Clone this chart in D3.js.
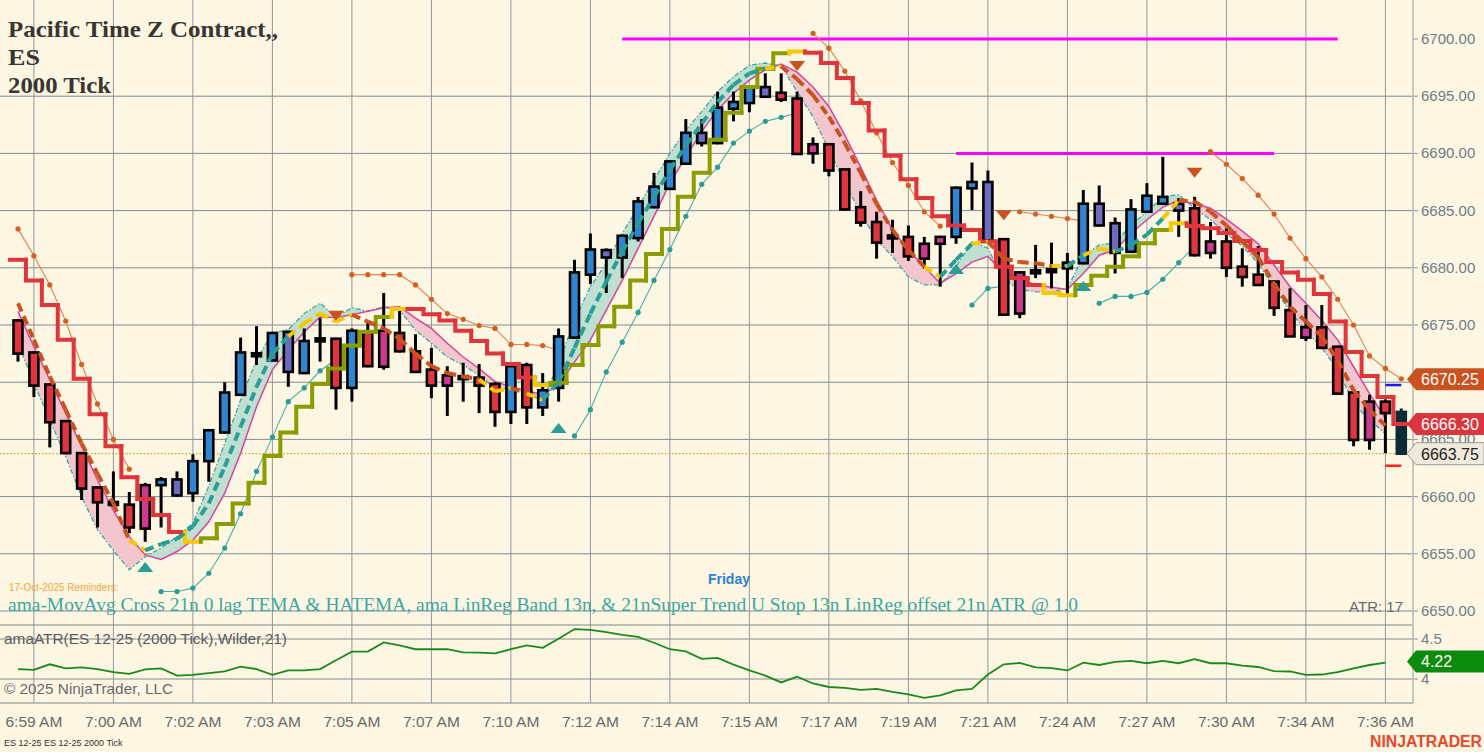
<!DOCTYPE html>
<html>
<head>
<meta charset="utf-8">
<script src="https://cdn.jsdelivr.net/npm/d3@7"></script>
<style>
  body { margin: 0; background: #fdf6e3; }
  svg { display: block; font-family: "Liberation Sans", Arial, sans-serif; }
</style>
</head>
<body>
<svg id="chart" width="1484" height="752"></svg>
<script>
// ---- DATA ----
const timeLabels = ["6:59 AM","7:00 AM","7:02 AM","7:03 AM","7:05 AM","7:07 AM","7:10 AM","7:12 AM","7:14 AM",
  "7:15 AM","7:17 AM","7:19 AM","7:21 AM","7:24 AM","7:27 AM","7:30 AM","7:34 AM","7:36 AM"];
const priceTicks = [6650, 6655, 6660, 6665, 6670, 6675, 6680, 6685, 6690, 6695, 6700];
const atrTicks = [4, 4.5];

// candles (2000 tick bars)
const opens = [6675.4,6672.6,6669.8,6666.6,6663.8,6660.8,6659.5,6659.3,6661.0,6661.0,
  6660.1,6660.3,6663.1,6665.6,6668.9,6672.5,6671.9,6674.4,6670.8,6673.8,
  6673.8,6669.5,6674.4,6674.5,6674.3,6672.7,6671.1,6670.6,6670.5,6670.4,
  6669.85,6667.4,6671.5,6667.8,6669.5,6673.9,6679.4,6680.9,6680.9,6682.6,
  6685.3,6686.9,6689.1,6690.9,6690.9,6693.9,6694.4,6694.95,6695.3,6694.8,
  6690.8,6690.8,6688.6,6685.3,6684.0,6682.8,6682.7,6682.1,6682.7,6682.7,
  6686.95,6682.4,6682.5,6679.6,6679.7,6679.8,6679.95,6680.4,6683.7,6683.9,
  6681.4,6684.9,6685.6,6685.6,6685.2,6682.3,6682.3,6680.1,6679.4,6678.8,
  6676.3,6674.8,6674.8,6673.1,6669.1,6668.3,6668.3,6667.4];
const highs = [6675.5,6672.7,6669.9,6666.7,6663.9,6660.9,6662.2,6660.4,6661.2,6661.7,
  6662.2,6663.7,6665.8,6670.0,6673.9,6674.9,6674.4,6674.5,6674.7,6675.6,
  6673.9,6674.7,6675.3,6677.8,6676.5,6674.2,6673.0,6671.4,6671.7,6671.6,
  6670.0,6671.5,6671.7,6670.8,6674.7,6680.7,6683.0,6681.7,6682.9,6686.2,
  6688.3,6689.4,6693.0,6693.0,6695.4,6695.4,6695.9,6697.0,6697.0,6695.4,
  6691.4,6690.9,6688.7,6686.7,6684.9,6684.2,6683.7,6682.7,6682.8,6687.1,
  6689.2,6688.5,6682.6,6679.7,6682.0,6682.2,6681.3,6686.8,6687.2,6684.4,
  6686.0,6687.4,6689.7,6686.1,6686.2,6684.0,6683.45,6681.7,6681.9,6678.9,
  6678.2,6676.75,6676.75,6673.2,6669.2,6668.9,6668.5,6667.7];
const lows = [6671.8,6668.7,6664.3,6663.7,6659.7,6657.3,6659.1,6656.8,6656.05,6657.3,
  6660.0,6659.55,6661.3,6665.5,6668.8,6671.5,6671.8,6669.6,6670.7,6671.8,
  6667.6,6668.3,6671.3,6671.1,6672.6,6670.8,6668.6,6667.05,6668.3,6667.3,
  6666.1,6666.35,6666.35,6667.05,6668.3,6673.8,6678.6,6677.8,6679.1,6682.3,
  6685.2,6686.8,6689.0,6690.6,6690.8,6692.8,6693.6,6694.9,6694.5,6689.9,
  6689.1,6688.0,6685.0,6683.6,6680.8,6681.3,6680.6,6679.9,6678.35,6682.1,
  6685.05,6682.3,6675.8,6675.6,6679.1,6678.2,6677.6,6680.3,6683.6,6679.5,
  6681.3,6684.8,6685.5,6682.7,6681.0,6680.8,6679.2,6678.35,6678.4,6675.8,
  6674.0,6673.6,6673.0,6668.9,6664.4,6664.1,6663.8,6663.75];
const closes = [6672.5,6669.7,6666.5,6663.8,6660.7,6659.5,6659.3,6657.3,6657.2,6661.5,
  6661.5,6663.1,6665.8,6669.1,6672.6,6672.3,6674.3,6670.9,6673.6,6673.6,
  6669.5,6674.5,6671.4,6671.35,6672.7,6670.9,6669.7,6669.7,6670.3,6669.7,
  6667.4,6671.4,6667.8,6669.3,6674.0,6679.6,6681.6,6681.55,6682.8,6685.8,
  6687.1,6689.3,6691.8,6691.8,6694.0,6694.5,6695.8,6695.8,6694.7,6689.95,
  6690.0,6688.5,6685.1,6683.95,6682.2,6682.6,6681.0,6680.8,6682.1,6687.0,
  6687.5,6687.5,6675.9,6676.0,6679.6,6679.7,6680.45,6685.6,6685.6,6681.3,
  6685.1,6686.3,6686.2,6685.0,6681.1,6681.3,6680.0,6679.2,6678.5,6676.5,
  6674.0,6673.9,6673.0,6669.0,6664.95,6664.95,6667.3,6663.75];
// body colour codes: b blue, r red, p purple, m magenta, k doji, d live bar
const candleKinds = "rrrrrrkrmb" + "pbbbbkbpbk" + "rbrmrrrmkr" + "rbrbbbbpbb" + "bbbpbbbprr" +
  "mrrrrkrmmb" + "bprmkkbbpp" + "bbbprmrrrr" + "rmrrrmrd";

// 0 lag TEMA (dashed) and its colour per segment: o down, t up, y flip
const tema = [6676.9,6673.7,6670.5,6667.6,6664.65,6662.0,6659.4,6656.2,6655.3,6655.85,
  6656.3,6657.4,6659.4,6662.6,6666.1,6669.6,6672.5,6674.0,6675.15,6676.0,
  6675.3,6675.9,6675.3,6674.7,6673.8,6672.5,6671.4,6670.8,6670.5,6670.25,
  6669.2,6669.5,6669.0,6668.45,6670.0,6673.0,6676.0,6678.8,6681.4,6683.9,
  6686.2,6688.55,6690.7,6692.6,6694.5,6696.0,6697.0,6697.4,6697.6,6696.5,
  6695.1,6693.2,6690.9,6688.3,6685.6,6683.3,6681.55,6680.1,6679.2,6680.7,
  6682.1,6682.3,6680.8,6680.5,6680.4,6680.15,6680.15,6681.1,6681.7,6681.4,
  6682.0,6682.9,6684.3,6685.9,6685.8,6684.9,6683.7,6682.3,6680.9,6678.6,
  6676.6,6675.3,6674.0,6671.9,6669.3,6667.6,6666.2];
const temaKinds = "oooooooo" + "y" + "ttttttttt" + "yyyy" + "oooooooo" + "yy" + "o" + "y" +
  "tttttttttttttt" + "y" + "ooooooooo" + "y" + "tt" + "y" + "oooo" + "y" + "t" + "yy" + "ttt" + "y" +
  "ooooooooooooo";

// LinReg band: HATEMA (magenta) and band edge (teal dash-dot)
const hatema = [6676.2,6673.1,6670.2,6667.3,6664.4,6661.45,6658.8,6656.5,6654.9,6654.5,
  6655.2,6656.2,6657.8,6660.3,6663.8,6667.85,6671.1,6672.8,6674.4,6675.7,
  6675.65,6675.9,6676.2,6676.5,6676.6,6675.6,6674.7,6673.4,6672.2,6671.2,
  6670.05,6669.6,6669.25,6668.9,6669.75,6671.75,6673.7,6676.3,6678.9,6681.7,
  6684.5,6687.4,6689.7,6691.9,6693.8,6695.25,6696.4,6697.3,6697.8,6697.1,
  6695.8,6694.1,6691.6,6688.8,6685.9,6683.3,6681.55,6680.1,6678.65,6679.5,
  6680.5,6681.0,6679.5,6679.1,6678.5,6678.3,6678.1,6679.5,6681.1,6681.55,
  6683.0,6684.2,6685.3,6685.9,6685.6,6685.2,6684.25,6683.2,6682.1,6680.25,
  6678.35,6676.9,6675.4,6673.7,6671.35,6669.0,6666.85];
const bandEdge = [6673.4,6669.9,6666.7,6663.5,6660.0,6657.1,6655.3,6653.6,6654.75,6655.5,
  6656.5,6657.7,6660.9,6664.65,6668.45,6671.95,6674.3,6674.6,6676.0,6676.9,
  6675.7,6676.5,6676.2,6676.6,6676.3,6674.55,6673.4,6672.2,6671.5,6670.6,
  6669.5,6669.4,6668.9,6668.45,6671.6,6675.4,6678.35,6680.4,6683.0,6685.3,
  6687.7,6690.0,6692.05,6693.65,6695.4,6696.7,6697.7,6697.9,6697.65,6695.4,
  6693.2,6690.3,6687.4,6684.8,6682.4,6681.0,6679.2,6678.5,6678.5,6680.1,
  6682.3,6681.7,6678.9,6678.1,6677.9,6677.9,6678.2,6681.0,6682.0,6682.15,
  6683.75,6684.9,6686.2,6686.4,6685.2,6684.2,6683.0,6681.9,6680.4,6678.2,
  6676.2,6674.55,6673.0,6671.1,6668.15,6666.7,6665.5];

// Super Trend step line: r down, g up (olive), y flip
const superTrend = [6680.7,6678.9,6676.75,6673.7,6670.3,6667.2,6664.4,6661.7,6659.8,6658.4,
  6656.9,6656.05,6656.35,6657.6,6659.4,6661.2,6663.55,6665.6,6667.85,6669.85,
  6671.2,6673.2,6674.4,6675.7,6676.4,6676.4,6675.95,6675.4,6674.5,6673.6,
  6672.5,6671.6,6670.4,6669.75,6669.95,6671.5,6673.25,6674.9,6676.6,6678.9,
  6681.2,6683.4,6686.2,6688.3,6691.2,6693.55,6695.8,6697.4,6698.75,6698.9,
  6698.8,6697.9,6696.6,6694.4,6692.0,6689.8,6687.75,6686.1,6684.5,6683.7,
  6683.3,6682.3,6680.1,6679.1,6678.5,6677.8,6677.6,6678.5,6679.3,6680.1,
  6681.0,6682.15,6683.3,6683.9,6683.65,6683.45,6683.05,6682.35,6681.55,6680.5,
  6679.6,6678.95,6677.7,6675.3,6672.65,6670.55,6668.7,6666.35];
const superTrendKinds = "rrrrrrrrrrr" + "y" + "gggggggggggg" + "y" + "rrrrrrrr" + "y" +
  "ggggggggggggggg" + "y" + "rrrrrrrrrrrrrrr" + "yy" + "gggggg" + "y" + "rrrrrrrrrrrrrr";

// U Stop trailing lines (start index + values)
const upperStops = [
  { start: 0,  vals: [6683.4,6681.05,6678.5,6675.35,6671.55,6668.1,6665.0,6662.4] },
  { start: 21, vals: [6679.4,6679.4,6679.4,6679.4,6678.5,6677.25,6676.0,6675.5,6674.95,6674.7,6673.3,6673.3,6673.2,6672.8] },
  { start: 50, vals: [6700.5,6699.2,6697.2,6694.6,6691.8,6689.2,6687.2,6684.9,6683.65] },
  { start: 63, vals: [6684.9,6684.7,6684.5,6684.3,6684.1] },
  { start: 75, vals: [6690.15,6689.05,6687.8,6686.35,6684.7,6682.6,6680.8,6679.2,6677.25,6675.0,6672.3,6671.2,6670.3] }
];
const lowerStops = [
  { start: 9,  vals: [6651.7,6651.7,6652.0,6653.3,6655.5,6658.5,6662.2,6665.2,6668.3,6669.5,6671.0,6672.0] },
  { start: 35, vals: [6665.3,6667.6,6670.9,6673.5,6676.1,6678.9,6681.6,6684.5,6687.3,6688.8,6690.9,6691.95,6692.8,6693.15,6693.55] },
  { start: 60, vals: [6676.75,6678.2,6678.4] },
  { start: 68, vals: [6676.9,6677.5,6677.5,6677.85,6679.0,6680.45,6681.9] }
];

// cross markers
const upArrows = [{ i: 8, p: 6653.85 }, { i: 34, p: 6666.0 }, { i: 59, p: 6679.9 }, { i: 67, p: 6678.4 }];
const downArrows = [{ i: 20, p: 6675.8 }, { i: 49, p: 6697.65 }, { i: 62, p: 6684.6 }, { i: 74, p: 6688.3 }];

// horizontal levels drawn on the chart
const levels = [{ p: 6700, from: 38, to: 83 }, { p: 6690, from: 59, to: 79 }];

// ATR (Wilder, 21)
const atr = [4.124,4.115,4.184,4.132,4.145,4.124,4.085,4.064,4.12,4.132,
  4.043,4.051,4.073,4.094,4.154,4.124,4.051,4.107,4.107,4.124,
  4.235,4.342,4.342,4.457,4.419,4.372,4.372,4.372,4.333,4.329,
  4.32,4.372,4.419,4.389,4.504,4.624,4.615,4.585,4.551,4.526,
  4.453,4.372,4.346,4.252,4.265,4.18,4.107,4.043,3.957,4.03,
  3.944,3.90,3.89,3.863,3.876,3.838,3.808,3.765,3.795,3.859,
  3.876,4.056,4.184,4.2,4.145,4.137,4.107,4.205,4.175,4.214,
  4.226,4.197,4.226,4.197,4.248,4.197,4.197,4.167,4.15,4.098,
  4.094,4.051,4.056,4.085,4.132,4.175,4.205];

const lastPrice = 6663.75, stopUpper = 6669.75, stopLower = 6662.7;
const priceFlags = [
  { p: 6670.25, text: "6670.25", fill: "#c9521f", color: "#fff" },
  { p: 6666.35, text: "6666.30", fill: "#d9363e", color: "#fff" },
  { p: 6663.75, text: "6663.75", fill: "#efeadb", color: "#222", stroke: "#9a9a9a" }
];
const atrFlag = { v: 4.22, text: "4.22" };

// ---- SETUP ----
const svg = d3.select("#chart");
const plotRight = 1413, mainBottom = 625, atrBottom = 703;

const x = d3.scaleLinear().domain([0, 87]).range([18, 1401.3]);
const y = d3.scaleLinear().domain([6650, 6700]).range([611, 39]);
const yA = d3.scaleLinear().domain([4, 4.5]).range([679, 639]);
const hw = (x(1) - x(0)) / 2;

const kindColor = { b: "#2e86d2", r: "#df353f", p: "#6b6bc0", m: "#cc3a8f", k: "#000", d: "#0b2b35" };
const temaColor = { o: "#c9521f", t: "#2a9d96", y: "#f6c800" };
const stColor = { r: "#e0353a", g: "#8a9c00", y: "#f6c800" };

svg.append("rect").attr("width", 1484).attr("height", 752).attr("fill", "#fdf6e3");

// grid
const grid = svg.append("g");
timeLabels.forEach((t, k) => {
  grid.append("line")
    .attr("x1", x(1 + 5 * k)).attr("x2", x(1 + 5 * k))
    .attr("y1", 0).attr("y2", atrBottom)
    .attr("stroke", "#8f9a9d").attr("stroke-width", 1);
});
// top tick (6700) has no grid line in the reference
priceTicks.filter(p => p < 6700).forEach(p => {
  grid.append("line").attr("x1", 0).attr("x2", plotRight)
    .attr("y1", y(p)).attr("y2", y(p))
    .attr("stroke", "#838d91").attr("stroke-width", 1);
});
atrTicks.forEach(v => {
  grid.append("line").attr("x1", 0).attr("x2", plotRight)
    .attr("y1", yA(v)).attr("y2", yA(v))
    .attr("stroke", "#838d91").attr("stroke-width", 1);
});
[mainBottom, atrBottom].forEach(v => {
  grid.append("line").attr("x1", 0).attr("x2", plotRight).attr("y1", v).attr("y2", v)
    .attr("stroke", "#7d878b").attr("stroke-width", 1.2);
});
grid.append("line").attr("x1", plotRight).attr("x2", plotRight).attr("y1", 0).attr("y2", atrBottom)
  .attr("stroke", "#c4c8c2").attr("stroke-width", 2);

// clip for main panel
const defs = svg.append("defs");
defs.append("clipPath").attr("id", "mainClip")
  .append("rect").attr("x", 0).attr("y", 0).attr("width", plotRight - 1).attr("height", mainBottom);

const bandIdx = d3.range(hatema.length);
defs.append("clipPath").attr("id", "aboveEdge").append("path")
  .attr("d", d3.area().x(i => x(i)).y0(0).y1(i => y(bandEdge[i]))(bandIdx));
defs.append("clipPath").attr("id", "belowEdge").append("path")
  .attr("d", d3.area().x(i => x(i)).y0(mainBottom).y1(i => y(bandEdge[i]))(bandIdx));

const main = svg.append("g").attr("clip-path", "url(#mainClip)");

// last price dotted line
main.append("line").attr("x1", 0).attr("x2", plotRight)
  .attr("y1", y(lastPrice)).attr("y2", y(lastPrice))
  .attr("stroke", "#d4a21a").attr("stroke-width", 1.2).attr("stroke-dasharray", "1.5,2");

// band fill
const bandArea = d3.area().x(i => x(i)).y0(i => y(hatema[i])).y1(i => y(bandEdge[i]));
main.append("path").attr("d", bandArea(bandIdx)).attr("fill", "#f3c5cc").attr("clip-path", "url(#aboveEdge)");
main.append("path").attr("d", bandArea(bandIdx)).attr("fill", "#bfe0d0").attr("clip-path", "url(#belowEdge)");

// magenta levels
levels.forEach(l => {
  main.append("line").attr("x1", x(l.from)).attr("x2", x(l.to))
    .attr("y1", y(l.p)).attr("y2", y(l.p))
    .attr("stroke", "#ff00ff").attr("stroke-width", 3);
});

// band edge lines
main.append("path").attr("d", d3.line().x(i => x(i)).y(i => y(bandEdge[i]))(bandIdx))
  .attr("fill", "none").attr("stroke", "#3aa8a0").attr("stroke-width", 1.3)
  .attr("stroke-dasharray", "5,2,1.5,2");
main.append("path").attr("d", d3.line().x(i => x(i)).y(i => y(hatema[i]))(bandIdx))
  .attr("fill", "none").attr("stroke", "#d6449c").attr("stroke-width", 1.5);

// stop lines
function drawStops(list, lineCol, dotCol) {
  list.forEach(s => {
    const pts = s.vals.map((v, k) => [x(s.start + k), y(v)]);
    main.append("path").attr("d", d3.line()(pts))
      .attr("fill", "none").attr("stroke", lineCol).attr("stroke-width", 1.1);
    main.selectAll(null).data(pts).enter().append("circle")
      .attr("cx", d => d[0]).attr("cy", d => d[1]).attr("r", 2.6).attr("fill", dotCol);
  });
}
drawStops(upperStops, "#e8824a", "#d4601f");
drawStops(lowerStops, "#4ab0a8", "#2a9d96");

// candles
const candles = main.append("g");
opens.forEach((o, i) => {
  const kind = candleKinds[i];
  const cx = x(i);
  const top = y(Math.max(o, closes[i])), bot = y(Math.min(o, closes[i]));
  const edge = kind === "d" ? kindColor.d : "#000";
  candles.append("line").attr("x1", cx).attr("x2", cx)
    .attr("y1", y(highs[i])).attr("y2", y(lows[i]))
    .attr("stroke", edge).attr("stroke-width", 3);
  candles.append("rect")
    .attr("x", cx - 4.5).attr("y", Math.min(top, (top + bot) / 2 - 1.5))
    .attr("width", 9).attr("height", Math.max(bot - top, 3))
    .attr("fill", kindColor[kind]).attr("stroke", edge).attr("stroke-width", 2.6);
});

// super trend steps
superTrend.forEach((v, i) => {
  const y0 = i > 0 ? y(superTrend[i - 1]) : y(v);
  main.append("path")
    .attr("d", `M${x(i) - hw},${y0}V${y(v)}H${x(i) + hw}`)
    .attr("fill", "none").attr("stroke", stColor[superTrendKinds[i]])
    .attr("stroke-width", 4).attr("stroke-linecap", "square");
});

// TEMA dashed
tema.forEach((v, i) => {
  if (i === 0) return;
  main.append("line")
    .attr("x1", x(i - 1)).attr("y1", y(tema[i - 1]))
    .attr("x2", x(i)).attr("y2", y(v))
    .attr("stroke", temaColor[temaKinds[i]]).attr("stroke-width", 4)
    .attr("stroke-dasharray", "9,5");
});

// stop markers on the last bar
[{ p: stopUpper, c: "#1a1aff" }, { p: stopLower, c: "#ff2020" }].forEach(s => {
  main.append("line").attr("x1", x(86)).attr("x2", x(87))
    .attr("y1", y(s.p)).attr("y2", y(s.p)).attr("stroke", s.c).attr("stroke-width", 2.5);
});

// arrows
main.selectAll(null).data(upArrows).enter().append("path")
  .attr("d", d => `M${x(d.i) - 8},${y(d.p) + 5}L${x(d.i) + 8},${y(d.p) + 5}L${x(d.i)},${y(d.p) - 5}Z`)
  .attr("fill", "#2a9d96");
main.selectAll(null).data(downArrows).enter().append("path")
  .attr("d", d => `M${x(d.i) - 8},${y(d.p) - 5}L${x(d.i) + 8},${y(d.p) - 5}L${x(d.i)},${y(d.p) + 5}Z`)
  .attr("fill", "#c9521f");

// ATR panel
svg.append("path")
  .attr("d", d3.line().x((d, i) => x(i)).y(d => yA(d))(atr))
  .attr("fill", "none").attr("stroke", "#1a8a1a").attr("stroke-width", 1.8);

// right axis labels (a tick label fully under a price flag is not shown)
priceTicks.forEach(p => {
  svg.append("line").attr("x1", plotRight).attr("x2", plotRight + 5)
    .attr("y1", y(p)).attr("y2", y(p)).attr("stroke", "#8f9a9d");
  if (priceFlags.some(f => Math.abs(y(f.p) - y(p)) < 6)) return;
  svg.append("text").attr("x", 1421).attr("y", y(p) + 5)
    .attr("font-size", 15).attr("fill", "#6f7d86").text(p.toFixed(2));
});
atrTicks.forEach(v => {
  svg.append("line").attr("x1", plotRight).attr("x2", plotRight + 5)
    .attr("y1", yA(v)).attr("y2", yA(v)).attr("stroke", "#8f9a9d");
  svg.append("text").attr("x", 1421).attr("y", yA(v) + 5)
    .attr("font-size", 15).attr("fill", "#6f7d86").text(v === 4 ? "4" : "4.5");
});

function flag(yc, fill, stroke, color, text) {
  svg.append("path")
    .attr("d", `M1407,${yc}L1416,${yc - 11}H1484V${yc + 11}H1416Z`)
    .attr("fill", fill).attr("stroke", stroke || "none").attr("stroke-width", 1);
  svg.append("text").attr("x", 1421).attr("y", yc + 6)
    .attr("font-size", 16).attr("fill", color).text(text);
}
priceFlags.forEach(f => flag(y(f.p), f.fill, f.stroke, f.color, f.text));
flag(yA(atrFlag.v), "#0c8a0c", null, "#fff", atrFlag.text);

// time axis
timeLabels.forEach((t, k) => {
  svg.append("text").attr("x", x(1 + 5 * k)).attr("y", 727)
    .attr("text-anchor", "middle").attr("font-size", 15.5).attr("fill", "#6a6a6a").text(t);
});

// texts
const titleLines = [["Pacific Time Z Contract,,", 270], ["ES", 32], ["2000 Tick", 103]];
titleLines.forEach((t, k) => {
  svg.append("text").attr("x", 8).attr("y", 37 + 28 * k)
    .attr("font-family", "'Liberation Serif', serif").attr("font-weight", "bold")
    .attr("font-size", 23).attr("fill", "#3a3530")
    .attr("textLength", t[1]).attr("lengthAdjust", "spacingAndGlyphs").text(t[0]);
});
svg.append("text").attr("x", 9).attr("y", 591).attr("font-size", 10).attr("fill", "#f5a53a")
  .text("17-Oct-2025 Reminders:");
svg.append("text").attr("x", 729).attr("y", 584).attr("text-anchor", "middle")
  .attr("font-size", 14).attr("font-weight", "bold").attr("fill", "#2d80d8").text("Friday");
svg.append("text").attr("x", 8).attr("y", 611)
  .attr("font-family", "'Liberation Serif', serif").attr("font-size", 19).attr("fill", "#3aa8a0")
  .attr("textLength", 1070).attr("lengthAdjust", "spacingAndGlyphs")
  .text("ama-MovAvg Cross 21n 0 lag TEMA & HATEMA, ama LinReg Band 13n, & 21nSuper Trend U Stop 13n LinReg offset 21n ATR @ 1.0");
svg.append("text").attr("x", 1403).attr("y", 612).attr("text-anchor", "end")
  .attr("font-size", 15).attr("fill", "#6a6a6a").text("ATR: 17");
svg.append("text").attr("x", 4).attr("y", 644).attr("font-size", 15).attr("fill", "#5a5a5a")
  .attr("textLength", 283).attr("lengthAdjust", "spacingAndGlyphs")
  .text("amaATR(ES 12-25 (2000 Tick),Wilder,21)");
svg.append("text").attr("x", 4).attr("y", 694).attr("font-size", 15).attr("fill", "#6a6a6a")
  .attr("textLength", 169).attr("lengthAdjust", "spacingAndGlyphs")
  .text("© 2025 NinjaTrader, LLC");
svg.append("text").attr("x", 4).attr("y", 746).attr("font-size", 9).attr("fill", "#333")
  .text("ES 12-25 ES 12-25 2000 Tick");
svg.append("text").attr("x", 1370).attr("y", 747).attr("font-size", 16).attr("font-weight", "bold")
  .attr("fill", "#e8482a").attr("textLength", 112).attr("lengthAdjust", "spacingAndGlyphs")
  .text("NINJATRADER");
</script>
</body>
</html>
